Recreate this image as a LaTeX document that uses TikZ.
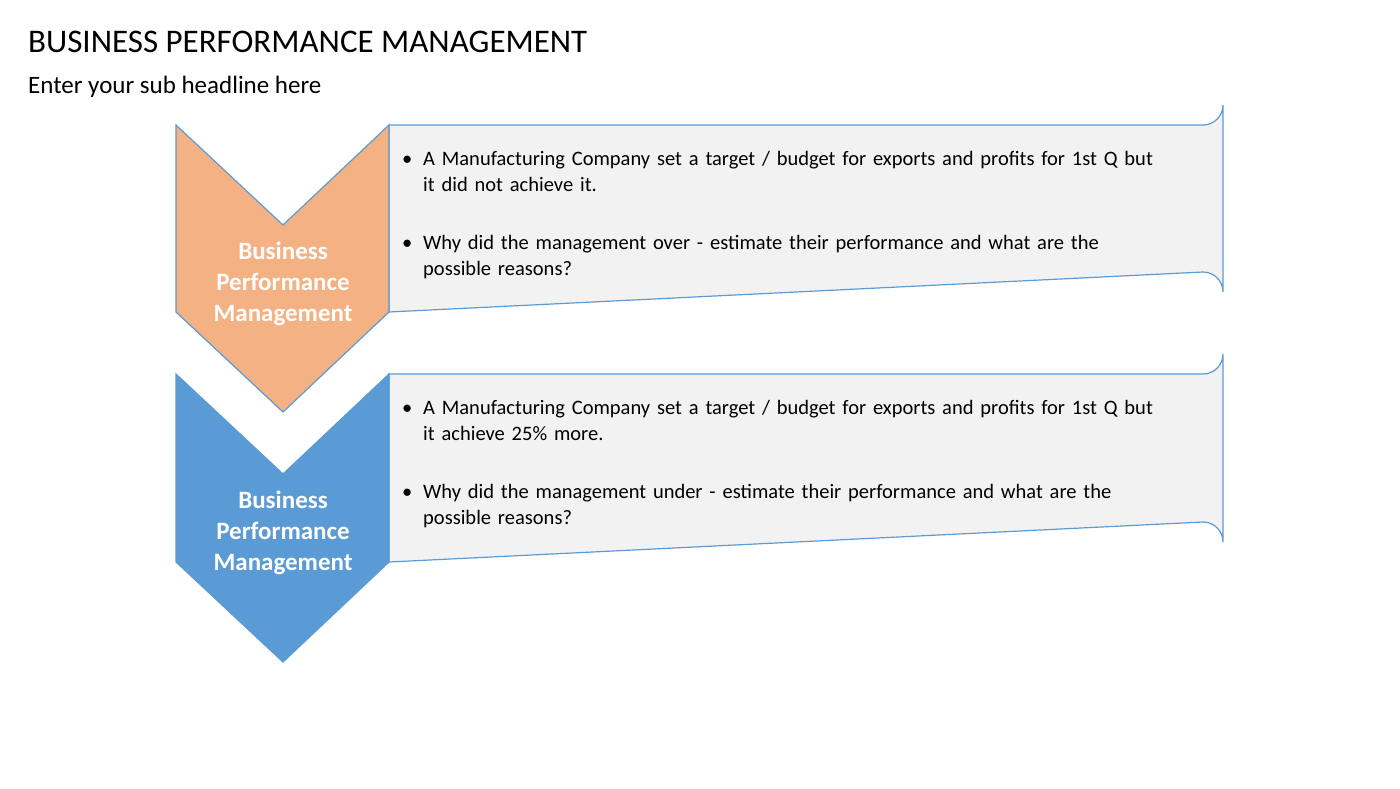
\documentclass[tikz,border=0pt]{standalone}
\usepackage{fontspec}
\setmainfont{Carlito}
\definecolor{peach}{HTML}{F4B183}
\definecolor{steel}{HTML}{5B9BD5}
\definecolor{panel}{HTML}{F2F2F2}
\begin{document}
\begin{tikzpicture}[x=1pt,y=-1pt]
    \tikzstyle{chev} = [draw=steel, line width=1.2pt]
    \tikzstyle{panelbox} = [draw=steel, line width=1.2pt, fill=panel]
    \tikzstyle{chevtext} = [text=white, font=\fontsize{25}{31}\selectfont\bfseries, align=center]
    \tikzstyle{bullet} = [anchor=north west, text width=800pt, inner sep=0pt,
        font=\fontsize{20.5}{26}\selectfont, align=left]
    \useasboundingbox (0,0) rectangle (1400,788);
    % headings
    \node [anchor=west, inner sep=0pt, font=\fontsize{33}{36}\selectfont] (title) at (28,42) {BUSINESS PERFORMANCE MANAGEMENT};
    \node [anchor=west, inner sep=0pt, font=\fontsize{25}{30}\selectfont] (sub) at (28,87) {Enter your sub headline here};
    % panels
    \draw [panelbox] (389,125) -- (1203,125) arc[start angle=90, end angle=0, radius=20] -- (1223,292) arc[start angle=0, end angle=-90, radius=20] -- (389,312) -- cycle;
    \draw [panelbox] (389,374) -- (1203,374) arc[start angle=90, end angle=0, radius=20] -- (1223,542) arc[start angle=0, end angle=-90, radius=20] -- (389,562) -- cycle;
    % chevrons
    \draw [chev, fill=peach] (176,125) -- (283,225) -- (389,125) -- (389,312) -- (283,412) -- (176,312) -- cycle;
    \draw [chev, fill=steel] (176,374) -- (283,474) -- (389,374) -- (389,562) -- (283,662) -- (176,562) -- cycle;
    \node [chevtext] (c1) at (283,284) {Business\\Performance\\Management};
    \node [chevtext] (c2) at (283,533) {Business\\Performance\\Management};
    % bullets
    \node [bullet] (b1) at (402,151) {\makebox[21pt][l]{\textbullet}A Manufacturing Company set a target / budget for exports and profits for 1st Q but\\\hspace*{21pt}it did not achieve it.};
    \node [bullet] (b2) at (402,235) {\makebox[21pt][l]{\textbullet}Why did the management over - estimate their performance and what are the\\\hspace*{21pt}possible reasons?};
    \node [bullet] (b3) at (402,400) {\makebox[21pt][l]{\textbullet}A Manufacturing Company set a target / budget for exports and profits for 1st Q but\\\hspace*{21pt}it achieve 25\% more.};
    \node [bullet] (b4) at (402,484) {\makebox[21pt][l]{\textbullet}Why did the management under - estimate their performance and what are the\\\hspace*{21pt}possible reasons?};
\end{tikzpicture}
\end{document}
